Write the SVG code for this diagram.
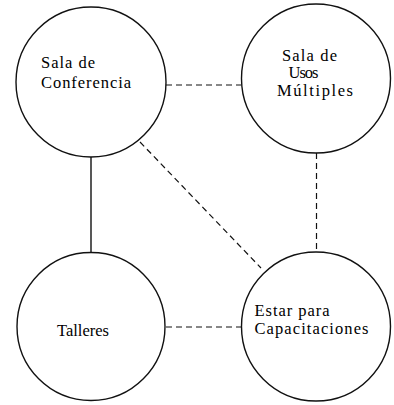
<svg xmlns="http://www.w3.org/2000/svg" width="394" height="405" viewBox="0 0 394 405">
<style>
.node{fill:#fff;stroke:#111;stroke-width:1.4}
.lbl{font-family:"Liberation Serif","Times New Roman",serif;font-size:16.5px;fill:#000}
.solid{stroke:#111;stroke-width:1.4;fill:none}
.dash{stroke:#111;stroke-width:1.2;fill:none;stroke-dasharray:6 4}
</style>
<rect width="394" height="405" fill="#fff"/>
<g id="connectors">
<line class="solid" x1="91" y1="156" x2="91" y2="253"/>
<line class="dash" x1="166" y1="85" x2="241" y2="85"/>
<line class="dash" x1="316.5" y1="153" x2="316.5" y2="252"/>
<line class="dash" x1="166" y1="327" x2="241" y2="327"/>
<line class="dash" x1="140" y1="142" x2="261" y2="268"/>
</g>
<g id="sala-conferencia">
<circle class="node" cx="91" cy="82" r="75"/>
<text class="lbl" x="41" y="68" textLength="54" lengthAdjust="spacing">Sala de</text>
<text class="lbl" x="41" y="88" textLength="90" lengthAdjust="spacing">Conferencia</text>
</g>
<g id="sala-usos-multiples">
<circle class="node" cx="316" cy="78.5" r="74.5"/>
<text class="lbl" x="282" y="60.5" textLength="55" lengthAdjust="spacing">Sala de</text>
<text class="lbl" x="288.5" y="78" textLength="30" lengthAdjust="spacing">Usos</text>
<text class="lbl" x="277" y="95.5" textLength="76" lengthAdjust="spacing">Múltiples</text>
</g>
<g id="talleres">
<circle class="node" cx="91" cy="326.5" r="74"/>
<text class="lbl" x="57" y="335.5" textLength="52" lengthAdjust="spacing">Talleres</text>
</g>
<g id="estar-capacitaciones">
<circle class="node" cx="316" cy="326.5" r="74.5"/>
<text class="lbl" x="254.5" y="316" textLength="75" lengthAdjust="spacing">Estar para</text>
<text class="lbl" x="254.5" y="334" textLength="114" lengthAdjust="spacing">Capacitaciones</text>
</g>
</svg>
